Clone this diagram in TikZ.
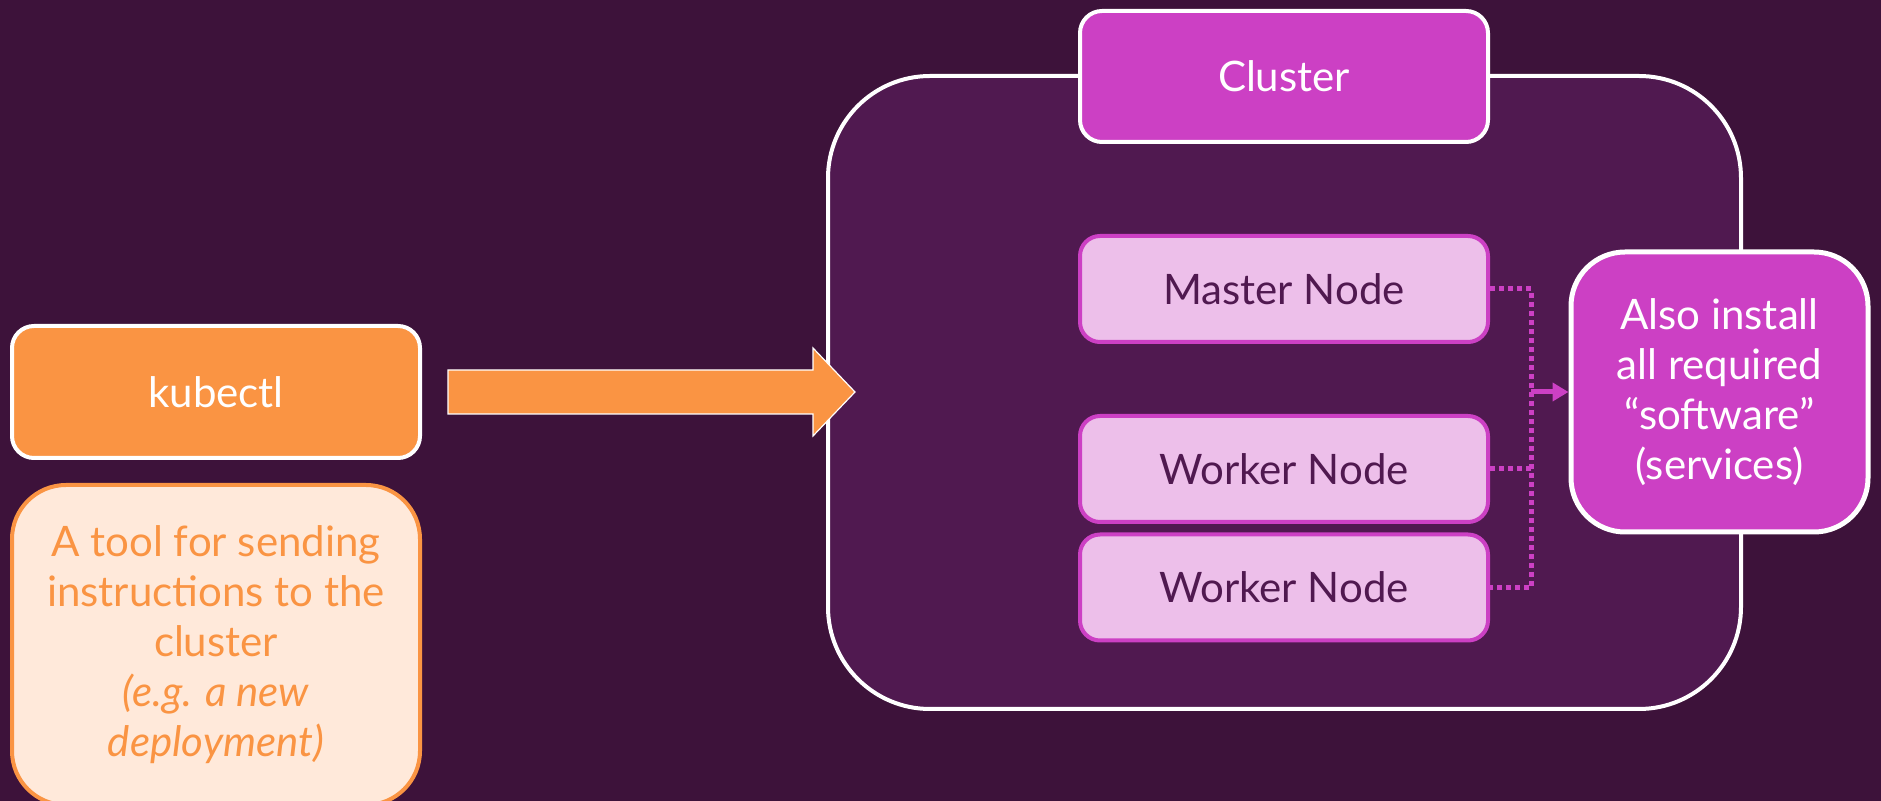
\documentclass[tikz,border=0pt]{standalone}
\usepackage{fontspec}
\setmainfont{Lato}
\usetikzlibrary{positioning,calc,arrows.meta}

\definecolor{bgpurple}{RGB}{61,18,58}
\definecolor{clusterfill}{RGB}{80,25,80}
\definecolor{magentabox}{RGB}{204,64,196}
\definecolor{pinkbox}{RGB}{237,191,234}
\definecolor{darktext}{RGB}{80,25,80}
\definecolor{orangebox}{RGB}{250,148,67}
\definecolor{peachbox}{RGB}{255,233,218}

\tikzset{
	bigfont/.style={font=\fontsize{21}{25}\selectfont},
	clusterbox/.style={draw=white, line width=2pt, fill=clusterfill, rounded corners=51pt, minimum width=456.5pt, minimum height=316.5pt},
	titlebox/.style={bigfont, draw=white, line width=2pt, fill=magentabox, text=white, rounded corners=11pt, minimum width=204pt, minimum height=65.5pt},
	machinebox/.style={bigfont, draw=magentabox, line width=2pt, fill=pinkbox, text=darktext, rounded corners=10pt, minimum width=204pt, minimum height=53pt},
	servicebox/.style={bigfont, draw=white, line width=2.5pt, fill=magentabox, text=white, rounded corners=27pt, minimum width=148.5pt, minimum height=140pt, align=center},
	toolbox/.style={bigfont, draw=white, line width=2pt, fill=orangebox, text=white, rounded corners=11pt, minimum width=204pt, minimum height=66pt},
	notebox/.style={bigfont, draw=orangebox, line width=2pt, fill=peachbox, text=orangebox, rounded corners=27pt, minimum width=204pt, minimum height=160pt, align=center},
	busline/.style={magentabox, line width=2.5pt, dash pattern=on 2.5pt off 2pt},
	feedline/.style={magentabox, line width=2.5pt, -{Triangle[length=8pt, width=9pt]}}
}

\begin{document}
\begin{tikzpicture}[x=0.5pt, y=-0.5pt]
	\useasboundingbox (0,0) rectangle (1881,801);
	\fill[bgpurple] (0,0) rectangle (1881,801);
	\clip (0,0) rectangle (1881,801);

	% cluster and its machines
	\node[clusterbox] (cluster) at (1284.5,392.5) {};
	\node[titlebox] (title) at (1284,76.5) {Cluster};
	\node[machinebox] (master) at (1284,289) {Master Node};
	\node[machinebox] (worker1) at (1284,469) {Worker Node};
	\node[machinebox] (worker2) at (1284,587.5) {Worker Node};
	\node[servicebox] (also) at (1719.5,392) {Also install\\all required\\“software”\\(services)};

	\coordinate (bustop) at ($(master.east)+(41,0)$);
	\coordinate (busbottom) at (bustop |- worker2.east);
	\draw[busline] (master.east) -- (bustop) -- (busbottom) -- (worker2.east);
	\draw[busline] (worker1.east) -- (bustop |- worker1.east);
	\draw[feedline] (bustop |- also.west) -- (also.west);

	% kubectl side
	\node[toolbox] (kubectl) at (216,392) {kubectl};
	\node[notebox] (note) at (216,645) {A tool for sending\\instructions to the\\cluster\\\textit{(e.g. a new}\\\textit{deployment)}};

	\filldraw[orangebox, draw=white, line width=0.6pt] ($(kubectl.east)+(26,-22)$) -- ++(365,0) -- ++(0,-22) -- ++(42,44) -- ++(-42,44) -- ++(0,-22) -- ++(-365,0) -- cycle;
\end{tikzpicture}
\end{document}
